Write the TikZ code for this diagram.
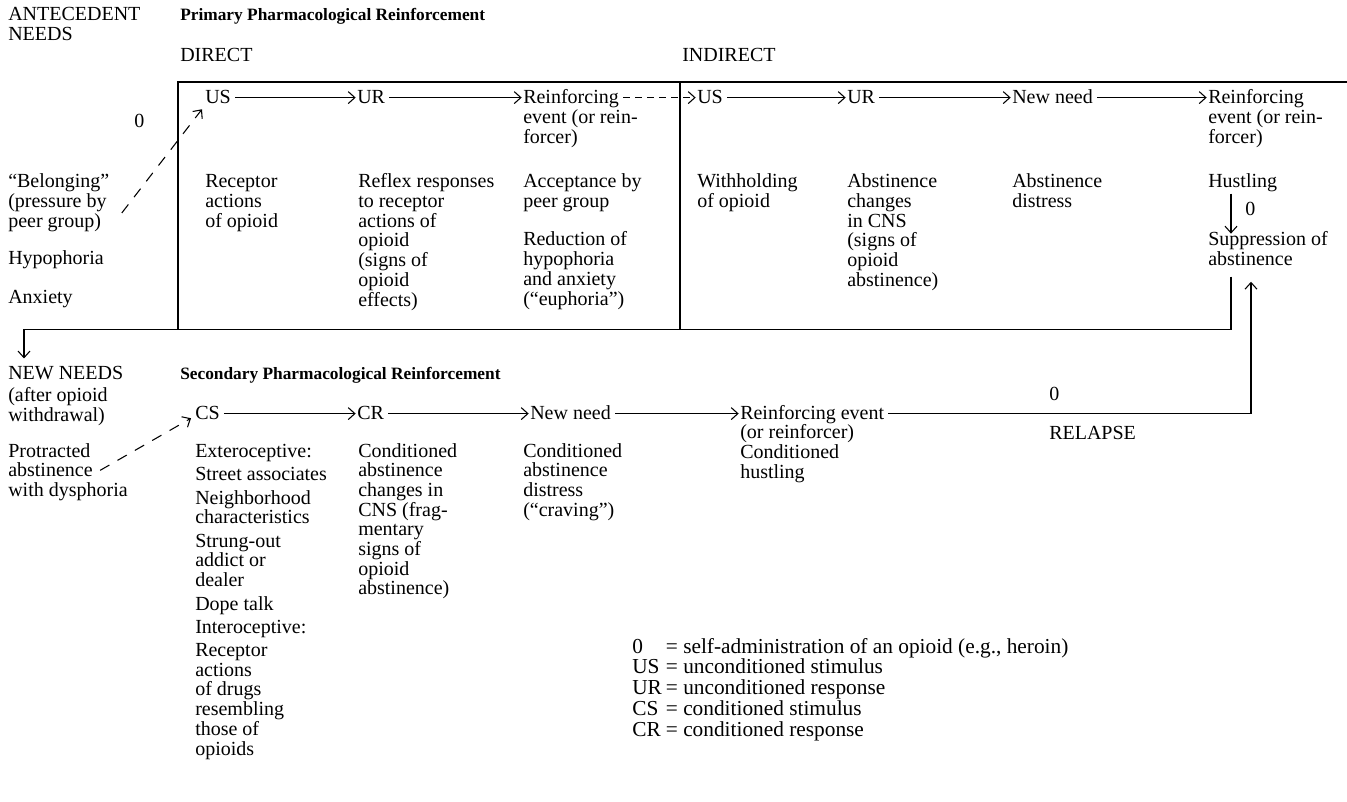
\documentclass[tikz,border=0pt]{standalone}
\usepackage{fontspec}
\setmainfont{Liberation Serif}
\usetikzlibrary{arrows.meta,calc}

% left-aligned block whose baseline is the baseline of its first line
\newcommand\tblock[1]{\begin{tabular}[t]{@{}l@{}}#1\end{tabular}}

\tikzset{
  txt/.style={anchor=base west, inner sep=0pt, font=\fontsize{15}{14.5}\selectfont},
  head/.style={txt, text height=9.6pt, text depth=0pt},
  ttl/.style={anchor=base west, inner sep=0pt, font=\fontsize{13}{14}\selectfont\bfseries},
  keytxt/.style={anchor=base west, inner sep=0pt, font=\fontsize{16}{15}\selectfont},
  rule/.style={line width=0.9pt},
  arr/.style={line width=0.8pt, -{Straight Barb[length=5pt,width=9pt]}},
  link/.style={arr, shorten <=3pt, shorten >=1pt},
  dlink/.style={link, dash pattern=on 5pt off 4pt},
  longdash/.style={arr, shorten <=1pt, dash pattern=on 8pt off 7pt},
}

\begin{document}
\begin{tikzpicture}[x=0.75pt, y=-0.75pt]
\useasboundingbox (0,0) rectangle (1347,802);

% ---------- headings ----------
\node[txt] (ante) at (8,21) {\tblock{ANTECEDENT\\NEEDS}};
\node[ttl] (prim) at (180,21) {Primary Pharmacological Reinforcement};
\node[txt] (direct) at (180,62) {DIRECT};
\node[txt] (indirect) at (682,62) {INDIRECT};

% ---------- frame of the primary reinforcement ----------
\draw[rule] (178,330) -- (178,82) -- (1347,82);
\draw[rule] (680,82) -- (680,330);

% ---------- primary chain ----------
\node[head] (us1) at (205,104) {US};
\node[head] (ur1) at (357,104) {UR};
\node[head] (re1) at (523,104) {Reinforcing};
\node[txt]  (re1b) at (523,124) {\tblock{event (or rein-\\forcer)}};
\node[head] (us2) at (697,104) {US};
\node[head] (ur2) at (847,104) {UR};
\node[head] (nn1) at (1012,104) {New need};
\node[head] (re2) at (1208,104) {Reinforcing};
\node[txt]  (re2b) at (1208,124) {\tblock{event (or rein-\\forcer)}};

\node[txt] (zero1) at (134,128) {0};

\node[txt] (belong) at (8,188) {\tblock{“Belonging”\\(pressure by\\peer group)}};
\node[txt] (hypo) at (8,265) {Hypophoria};
\node[txt] (anx) at (8,304) {Anxiety};

\node[txt] (rec1) at (205,188) {\tblock{Receptor\\actions\\of opioid}};
\node[txt] (refl) at (358,188) {\tblock{Reflex responses\\to receptor\\actions of\\opioid\\(signs of\\opioid\\effects)}};
\node[txt] (acc) at (523,188) {\tblock{Acceptance by\\peer group}};
\node[txt] (red) at (523,246) {\tblock{Reduction of\\hypophoria\\and anxiety\\(“euphoria”)}};
\node[txt] (with) at (697,188) {\tblock{Withholding\\of opioid}};
\node[txt] (abch) at (847,188) {\tblock{Abstinence\\changes\\in CNS\\(signs of\\opioid\\abstinence)}};
\node[txt] (abd) at (1012,188) {\tblock{Abstinence\\distress}};
\node[txt] (hust) at (1208,188) {Hustling};
\node[txt] (zero2) at (1245,216) {0};
\node[txt] (supp) at (1208,246) {\tblock{Suppression of\\abstinence}};

\draw[link] (us1.east) -- (ur1.west);
\draw[link] (ur1.east) -- (re1.west);
\draw[dlink] (re1.east) -- (us2.west);
\draw[link] (us2.east) -- (ur2.west);
\draw[link] (ur2.east) -- (nn1.west);
\draw[link] (nn1.east) -- (re2.west);
\draw[arr] ($(hust.south west)+(23,1)$) -- ($(supp.north west)+(23,2)$);

\coordinate (d1) at (121,214);
\draw[longdash] (d1) -- ($(us1.south west)+(-3,5)$);

% ---------- secondary reinforcement ----------
\node[txt] (newn) at (8,380) {NEW NEEDS};
\node[txt] (after) at (8,402) {\tblock{(after opioid\\withdrawal)}};
\node[ttl] (sec) at (180,380) {Secondary Pharmacological Reinforcement};

\coordinate (turn) at ($(newn.north west)+(16,-37)$);
\draw[arr] ($(supp.south west)+(23,5)$) |- (turn) -- ($(newn.north west)+(16,-8)$);

\node[head] (cs) at (195,420) {CS};
\node[head] (cr) at (357,420) {CR};
\node[head] (nn2) at (530,420) {New need};
\node[head] (re3) at (740,420) {Reinforcing event};
\node[txt] (re3b) at (740,439) {\tblock{(or reinforcer)\\Conditioned\\hustling}};

\node[txt] (prot) at (8,457) {\tblock{Protracted\\abstinence\\with dysphoria}};
\node[txt] (ext) at (195,457) {\tblock{Exteroceptive:\\[3pt] Street associates\\[3pt] Neighborhood\\characteristics\\[3pt] Strung-out\\addict or\\dealer\\[3pt] Dope talk\\[3pt] Interoceptive:\\[3pt] Receptor\\actions\\of drugs\\resembling\\those of\\opioids}};
\node[txt] (ccr) at (358,457) {\tblock{Conditioned\\abstinence\\changes in\\CNS (frag-\\mentary\\signs of\\opioid\\abstinence)}};
\node[txt] (cnn) at (523,457) {\tblock{Conditioned\\abstinence\\distress\\(“craving”)}};

\draw[link] (cs.east) -- (cr.west);
\draw[link] (cr.east) -- (nn2.west);
\draw[link] (nn2.east) -- (re3.west);

\coordinate (d2) at (99,471);
\draw[longdash] (d2) -- ($(cs.south west)+(-4,-2)$);

\node[txt] (zero3) at (1049,401) {0};
\node[txt] (relapse) at (1049,440) {RELAPSE};
\draw[arr, shorten <=3pt] (re3.east) -| ($(supp.south west)+(43,10)$);

% ---------- key ----------
\node[keytxt] (legend) at (632,653) {\begin{tabular}[t]{@{}l@{\hspace{3pt}}l@{\hspace{4pt}}l@{}}
0  & = & self-administration of an opioid (e.g., heroin)\\
US & = & unconditioned stimulus\\
UR & = & unconditioned response\\
CS & = & conditioned stimulus\\
CR & = & conditioned response
\end{tabular}};

\end{tikzpicture}
\end{document}
